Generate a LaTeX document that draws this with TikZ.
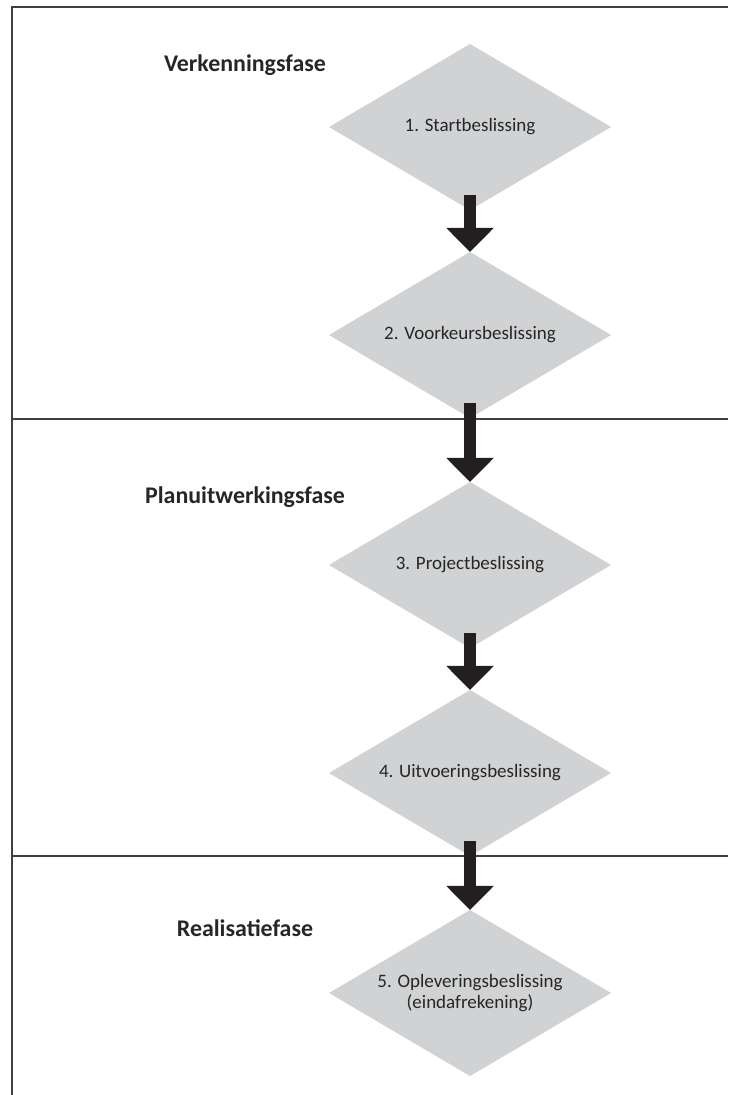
\documentclass[tikz,border=0pt]{standalone}
\usepackage{fontspec}
\setmainfont{Carlito}
\usetikzlibrary{shapes.geometric,arrows.meta}
\definecolor{beslisgrijs}{HTML}{D1D2D4}
\definecolor{pijlzwart}{HTML}{231F20}
\def\kaderbreed{0.05cm}

\begin{document}
\begin{tikzpicture}[x=0.025cm,y=-0.025cm]
    \tikzstyle{besluit}=[diamond,fill=beslisgrijs,minimum width=7.05cm,minimum height=4.15cm,
        aspect=1.7,inner sep=0pt,outer sep=0pt,align=center,text=black!85,
        font=\fontsize{13.5}{15.5}\selectfont]
    \tikzstyle{fase}=[font=\fontsize{17}{20}\selectfont\bfseries,text=black!85,inner sep=0pt]
    \tikzstyle{kader}=[draw=black!75,line width=\kaderbreed]
    \tikzstyle{pijl}=[draw=pijlzwart,line width=0.3cm,shorten <=-0.37cm,
        -{Triangle[length=0.6cm,width=1.15cm]}]

    \useasboundingbox (0,0) rectangle (728,1095);

    % Frame and phase borders
    \draw[kader] (728,7) -- (12,7) -- (12,1095);
    \foreach \y in {419,856}
        \draw[kader] (12,\y) -- (728,\y);

    % Phase labels
    \node[fase] (fase-1) at (245,65) {Verkenningsfase};
    \node[fase] (fase-2) at (245,497) {Planuitwerkingsfase};
    \node[fase] (fase-3) at (245,928) {Realisatiefase};

    % Draw the decision nodes
    \foreach \name / \y / \tekst in {1/127/{1. Startbeslissing},
                                    2/335/{2. Voorkeursbeslissing},
                                    3/565/{3. Projectbeslissing},
                                    4/773/{4. Uitvoeringsbeslissing},
                                    5/993/{5. Opleveringsbeslissing\\(eindafrekening)}}
        \node[besluit] (D-\name) at (470,\y) {\tekst};

    % Connect each decision with the next one
    \foreach \source / \dest in {1/2,2/3,3/4,4/5}
        \path[pijl] (D-\source.south) -- (D-\dest.north);
\end{tikzpicture}
\end{document}
